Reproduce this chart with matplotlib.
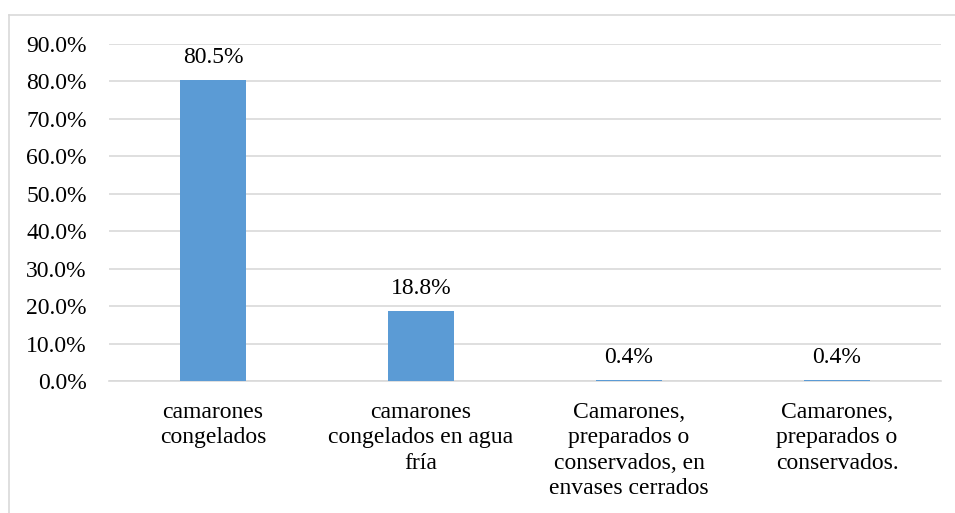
import matplotlib
matplotlib.use("Agg")
import matplotlib.pyplot as plt
from matplotlib.lines import Line2D
from matplotlib.ticker import FuncFormatter

categories = ["camarones\ncongelados",
              "camarones\ncongelados en agua\nfría",
              "Camarones,\npreparados o\nconservados, en\nenvases cerrados",
              "Camarones,\npreparados o\nconservados."]
values = [80.5, 18.8, 0.4, 0.4]
yticks = [0, 10, 20, 30, 40, 50, 60, 70, 80, 90]

plt.rcParams['font.family'] = ['Liberation Serif', 'DejaVu Serif']
FS = 17

fig = plt.figure(figsize=(9.55, 5.13), dpi=100)
ax = fig.add_axes([109/955, 1-381/513, (941-109)/955, (381-44)/513])

x = list(range(len(categories)))
bars = ax.bar(x, values, width=0.313, color="#5B9BD5", zorder=3)
ax.set_xlim(-0.5, len(categories)-0.5)
ax.set_ylim(0, 90)
ax.set_yticks(yticks)
ax.yaxis.set_major_formatter(FuncFormatter(lambda v, p: f"{v:.1f}%"))
ax.grid(axis="y", color="#D9D9D9", linewidth=1.2, zorder=0)
ax.set_axisbelow(True)
for s in ["top", "right", "left"]:
    ax.spines[s].set_visible(False)
ax.spines["bottom"].set_color("#D9D9D9")
ax.spines["bottom"].set_linewidth(1.2)
ax.tick_params(axis="y", length=0, pad=16, labelsize=FS)
ax.tick_params(axis="x", length=0, pad=15, labelsize=FS)
ax.set_xticks(x)
ax.set_xticklabels(categories, linespacing=1.28, va="top", ha="center")

for xi, v in zip(x, values):
    ax.annotate(f"{v:.1f}%", (xi, v), xytext=(0, 8), textcoords="offset points",
                ha="center", va="bottom", fontsize=FS)

# outer chart border (top and left visible)
fig.add_artist(Line2D([9/955, 1.0], [1-15/513, 1-15/513], transform=fig.transFigure,
                      color="#D9D9D9", linewidth=1.2))
fig.add_artist(Line2D([9/955, 9/955], [0, 1-15/513], transform=fig.transFigure,
                      color="#D9D9D9", linewidth=1.2))

fig.savefig("out.png", dpi=100)
